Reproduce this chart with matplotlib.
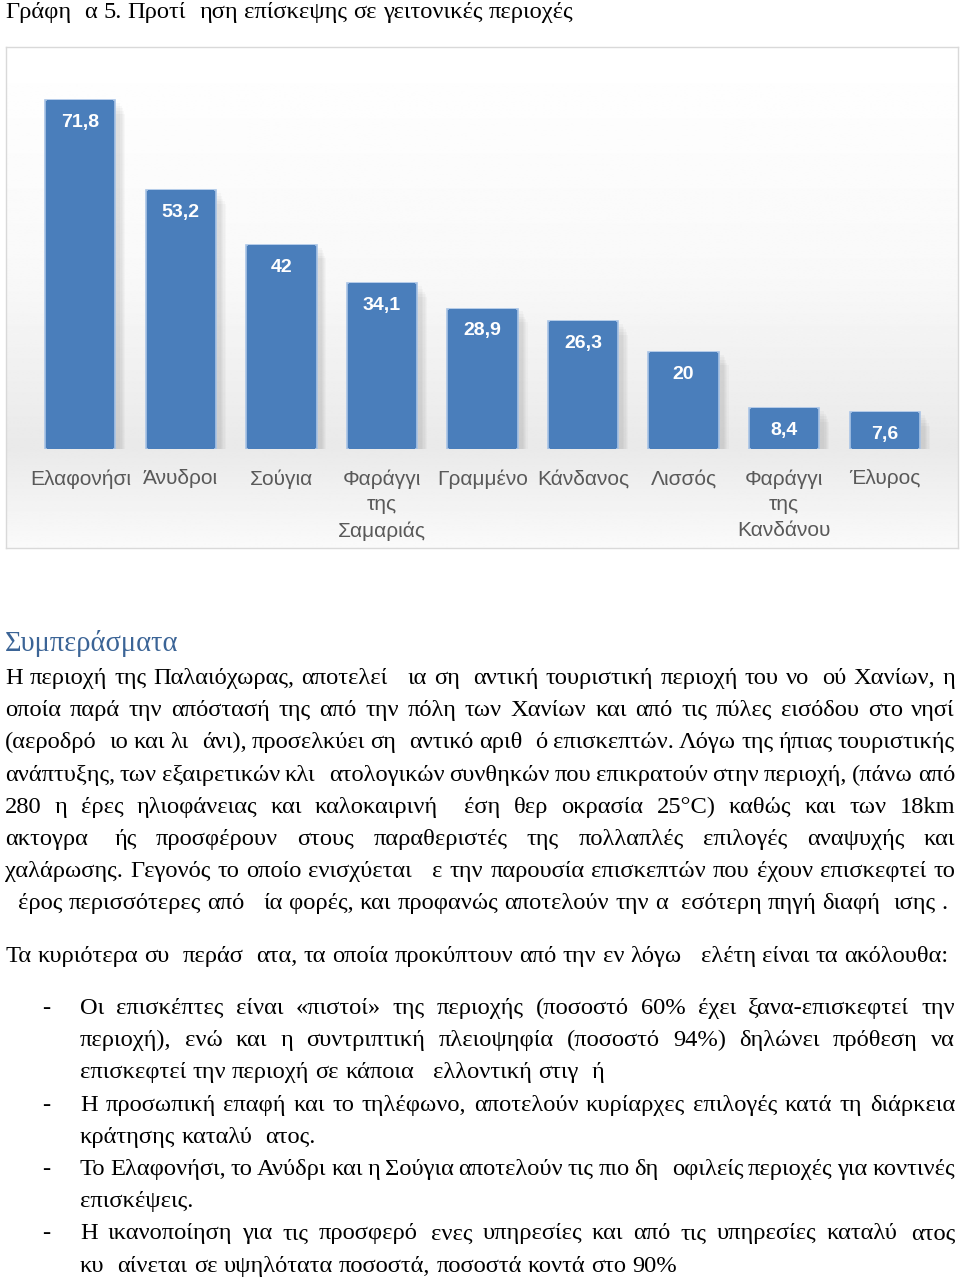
import numpy as np
import matplotlib
matplotlib.use("Agg")
import matplotlib.pyplot as plt

# ---------------- data ----------------
categories = ["Ελαφονήσι", "Άνυδροι", "Σούγια", "Φαράγγι\nτης\nΣαμαριάς", "Γραμμένο",
              "Κάνδανος", "Λισσός", "Φαράγγι\nτης\nΚανδάνου", "Έλυρος"]
values = [71.8, 53.2, 42, 34.1, 28.9, 26.3, 20, 8.4, 7.6]
value_labels = ["71,8", "53,2", "42", "34,1", "28,9", "26,3", "20", "8,4", "7,6"]

# '¤' marks a glyph that is missing (blank) in the reference
title_text = "Γράφη¤α 5. Προτί¤ηση επίσκεψης σε γειτονικές περιοχές"
heading_text = "Συμπεράσματα"
paragraph_lines = [
    "Η περιοχή της Παλαιόχωρας, αποτελεί ¤ια ση¤αντική τουριστική περιοχή του νο¤ού Χανίων, η",
    "οποία παρά την απόστασή της από την πόλη των Χανίων και από τις πύλες εισόδου στο νησί",
    "(αεροδρό¤ιο και λι¤άνι), προσελκύει ση¤αντικό αριθ¤ό επισκεπτών. Λόγω της ήπιας τουριστικής",
    "ανάπτυξης, των εξαιρετικών κλι¤ατολογικών συνθηκών που επικρατούν στην περιοχή, (πάνω από",
    "280 η¤έρες ηλιοφάνειας και καλοκαιρινή ¤έση θερ¤οκρασία 25°C) καθώς και των 18km",
    "ακτογρα¤¤ής προσφέρουν στους παραθεριστές της πολλαπλές επιλογές αναψυχής και",
    "χαλάρωσης. Γεγονός το οποίο ενισχύεται ¤ε την παρουσία επισκεπτών που έχουν επισκεφτεί το",
    "¤έρος περισσότερες από ¤ία φορές, και προφανώς αποτελούν την α¤εσότερη πηγή διαφή¤ισης .",
]
intro_line = "Τα κυριότερα συ¤περάσ¤ατα, τα οποία προκύπτουν από την εν λόγω ¤ελέτη είναι τα ακόλουθα:"
bullets = [
    ["Οι επισκέπτες είναι «πιστοί» της περιοχής (ποσοστό 60% έχει ξανα-επισκεφτεί την",
     "περιοχή), ενώ και η συντριπτική πλειοψηφία (ποσοστό 94%) δηλώνει πρόθεση να",
     "επισκεφτεί την περιοχή σε κάποια ¤ελλοντική στιγ¤ή"],
    ["Η προσωπική επαφή και το τηλέφωνο, αποτελούν κυρίαρχες επιλογές κατά τη διάρκεια",
     "κράτησης καταλύ¤ατος."],
    ["Το Ελαφονήσι, το Ανύδρι και η Σούγια αποτελούν τις πιο δη¤οφιλείς περιοχές για κοντινές",
     "επισκέψεις."],
    ["Η ικανοποίηση για τις προσφερό¤ενες υπηρεσίες και από τις υπηρεσίες καταλύ¤ατος",
     "κυ¤αίνεται σε υψηλότατα ποσοστά, ποσοστά κοντά στο 90%"],
]

# ---------------- figure ----------------
W, H = 960, 1279
fig = plt.figure(figsize=(W / 100, H / 100), dpi=100)
fig.patch.set_facecolor("white")
renderer = fig.canvas.get_renderer()

SERIF = ["Liberation Serif", "DejaVu Serif"]
SANS = ["Liberation Sans Narrow", "Liberation Sans", "DejaVu Sans"]


def fx(x):
    return x / W


def fy(y):
    return 1 - y / H


def measure(s, **kw):
    if not s:
        return 0.0
    t = fig.text(0, 0, s, **kw)
    w = t.get_window_extent(renderer).width
    t.remove()
    return w


def metrics(**kw):
    mu_w = measure("μ", **kw)
    sp_w = measure("x x", **kw) - measure("xx", **kw)
    return mu_w, sp_w


def tok_width(tok, mu_w, **kw):
    parts = tok.split("¤")
    return sum(measure(p, **kw) for p in parts) + (len(parts) - 1) * mu_w


def line_width(text, **kw):
    mu_w, sp_w = metrics(**kw)
    toks = text.split(" ")
    return sum(tok_width(t, mu_w, **kw) for t in toks) + (len(toks) - 1) * sp_w


def draw_line(text, x0, yb, x1=None, **kw):
    mu_w, sp_w = metrics(**kw)
    toks = text.split(" ")
    widths = [tok_width(t, mu_w, **kw) for t in toks]
    if x1 is not None and len(toks) > 1:
        gap = (x1 - x0 - sum(widths)) / (len(toks) - 1)
    else:
        gap = sp_w
    x = x0
    for tok, w in zip(toks, widths):
        xx = x
        for p in tok.split("¤"):
            if p:
                fig.text(fx(xx), fy(yb), p, ha="left", va="baseline", **kw)
            xx += measure(p, **kw) + mu_w
        x += w + gap


# body font size matched to the natural width of the intro line
FS = 20 * 943 / line_width(intro_line, family=SERIF, fontsize=20)
body = dict(family=SERIF, color="black", fontsize=FS)

# title
FS_T = 20 * 567 / line_width(title_text, family=SERIF, fontsize=20)
draw_line(title_text, 5, 18, family=SERIF, color="black", fontsize=FS_T)

# ---------------- chart background ----------------
bx0, by0, bx1, by1 = 6, 47, 958, 548
bg = fig.add_axes([fx(bx0), fy(by1), (bx1 - bx0) / W, (by1 - by0) / H])
stops_y = np.array([0, 0.45, 0.80, 1.0])
stops_v = np.array([1.0, 0.975, 0.915, 0.98])
yy = np.linspace(0, 1, 400)
grad = np.interp(yy, stops_y, stops_v)[:, None]
bg.imshow(np.repeat(grad, 2, axis=1), cmap="gray", vmin=0, vmax=1, aspect="auto",
          extent=[0, 1, 1, 0], interpolation="bilinear")
bg.set_xlim(0, 1)
bg.set_ylim(1, 0)
bg.set_xticks([])
bg.set_yticks([])
for s in bg.spines.values():
    s.set_color("#d9d9d9")
    s.set_linewidth(1.0)

# ---------------- bars ----------------
ax_top, ax_bot = 60, 449
ax = fig.add_axes([fx(30), fy(ax_bot), 905 / W, (ax_bot - ax_top) / H])
ax.patch.set_alpha(0)
x = np.arange(len(categories))
ymax = 71.8 * (ax_bot - ax_top) / (449 - 100)
ax.set_xlim(-0.5, len(categories) - 0.5)
ax.set_ylim(0, ymax)

# soft shadow
for k in range(5):
    ax.bar(x + 0.05 + 0.012 * k, np.array(values) - 0.3 * k, width=0.7, bottom=-0.6 - 0.25 * k,
           color="black", alpha=0.025, linewidth=0, zorder=1)
ax.bar(x, values, width=0.7, color="#4a7ebb", edgecolor="#a9c4e6", linewidth=1.2, zorder=2)
ax.bar(x, values, width=0.66, color="#4a7ebb", linewidth=0, zorder=3)

for xi, v, lab in zip(x, values, value_labels):
    ax.annotate(lab, (xi, v), xytext=(0, -16), textcoords="offset points",
                ha="center", va="center", color="white", fontsize=14,
                fontweight="bold", family=SANS, zorder=4)

ax.set_xticks(x)
ax.set_xticklabels(categories, family=SANS, fontsize=15, color="#595959", linespacing=1.45)
ax.tick_params(axis="x", length=0, pad=14.5)
ax.set_yticks([])
for s in ax.spines.values():
    s.set_visible(False)

# ---------------- text ----------------
heading_w = measure(heading_text, family=SERIF, fontsize=20)
fig.text(fx(5), fy(651), heading_text, family=SERIF, fontsize=20 * 173 / heading_w,
         color="#3b6496", ha="left", va="baseline")

LS = 32.2
y0 = 677
for i, line in enumerate(paragraph_lines):
    yb = y0 + i * LS + 7
    if i < len(paragraph_lines) - 1:
        draw_line(line, 5, yb, 955, **body)
    else:
        draw_line(line, 5, yb, **body)

draw_line(intro_line, 5, 955 + 7, **body)

by = 1007
for b in bullets:
    for j, line in enumerate(b):
        yb = by + 7
        if j == 0:
            fig.text(fx(42), fy(yb), "-", ha="left", va="baseline", **body)
        if j < len(b) - 1:
            draw_line(line, 80, yb, 955, **body)
        else:
            draw_line(line, 80, yb, **body)
        by += LS

fig.savefig("out.png", dpi=100, facecolor="white")
